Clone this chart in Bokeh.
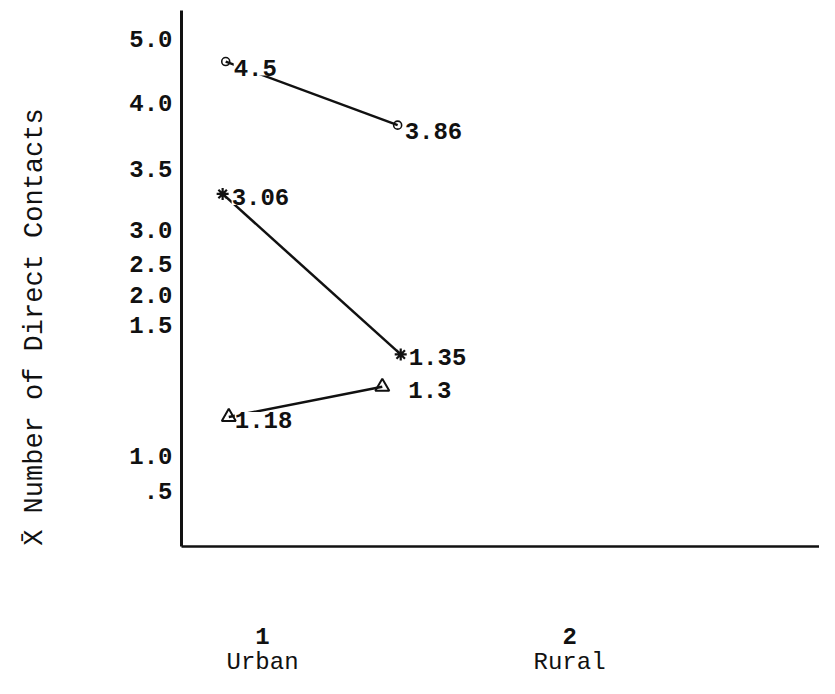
from bokeh.plotting import figure
from bokeh.models import ColumnDataSource, FixedTicker, LinearAxis, Range1d
from bokeh.embed import file_html
from bokeh.resources import INLINE
from bokeh.core.properties import value

FONT = "Liberation Mono"
INK = "#111111"

# ---- data (typed axis of the original: labels and their heights, read against the 1.0 and 5.0 ticks)
y_tick_labels = ["5.0", "4.0", "3.5", "3.0", "2.5", "2.0", "1.5", "1.0", ".5"]
y_tick_heights = [5.0, 4.38, 3.75, 3.16, 2.84, 2.54, 2.25, 1.0, 0.66]

x_ticks = [1, 2]
x_tick_numbers = ["1", "2"]
x_tick_names = ["Urban", "Rural"]

# series (urban, rural): typed mean labels, and plotted positions
circle_means = ["4.5", "3.86"]
circle_x = [0.88, 1.44]
circle_y = [4.78, 4.17]

star_means = ["3.06", "1.35"]
star_x = [0.87, 1.45]
star_y = [3.51, 1.97]

triangle_means = ["1.18", "1.3"]
triangle_x = [0.89, 1.39]
triangle_y = [1.37, 1.66]

y_title = "X\u0304 Number of Direct Contacts"

# ---- figure
p = figure(width=819, height=678, output_backend="svg", toolbar_location=None,
           x_range=Range1d(0.736, 2.814), y_range=Range1d(0.127, 5.27),
           min_border_left=181, min_border_right=0, min_border_top=10,
           min_border_bottom=132, outline_line_color=None,
           background_fill_color="white", border_fill_color="white")
p.grid.visible = False

ya = p.yaxis[0]
ya.ticker = FixedTicker(ticks=y_tick_heights)
ya.major_label_overrides = {h: l for h, l in zip(y_tick_heights, y_tick_labels)}
ya.major_tick_line_color = None
ya.minor_tick_line_color = None
ya.major_tick_in = 0
ya.major_tick_out = 0
ya.major_label_standoff = 9
ya.major_label_text_font = FONT
ya.major_label_text_font_size = "24px"
ya.major_label_text_font_style = "bold"
ya.major_label_text_color = INK
ya.axis_line_color = INK
ya.axis_line_width = 3
ya.axis_label = y_title + "\u00a0" * 6
ya.axis_label_text_font = FONT
ya.axis_label_text_font_size = "27px"
ya.axis_label_text_font_style = "normal"
ya.axis_label_text_color = INK
ya.axis_label_standoff = 76

xa = p.xaxis[0]
xa.ticker = FixedTicker(ticks=x_ticks)
xa.major_label_overrides = {t: l for t, l in zip(x_ticks, x_tick_numbers)}
xa.major_tick_line_color = None
xa.minor_tick_line_color = None
xa.major_tick_in = 0
xa.major_tick_out = 0
xa.major_label_standoff = 81
xa.major_label_text_font = FONT
xa.major_label_text_font_size = "24px"
xa.major_label_text_font_style = "bold"
xa.major_label_text_line_height = 1.0
xa.major_label_text_color = INK
xa.axis_line_color = INK
xa.axis_line_width = 2.5

xa2 = LinearAxis(ticker=FixedTicker(ticks=x_ticks),
                 major_label_overrides={t: l for t, l in zip(x_ticks, x_tick_names)})
xa2.axis_line_color = None
xa2.major_tick_line_color = None
xa2.minor_tick_line_color = None
xa2.major_tick_in = 0
xa2.major_tick_out = 0
xa2.major_label_standoff = 2
xa2.major_label_text_font = FONT
xa2.major_label_text_font_size = "24px"
xa2.major_label_text_line_height = 1.0
xa2.major_label_text_color = INK
p.add_layout(xa2, "below")

series = [
    dict(x=circle_x, y=circle_y, label=circle_means, marker="circle", size=8, lw=1.6,
         dx=[8, 7], dy=6),
    dict(x=star_x, y=star_y, label=star_means, marker="asterisk", size=12, lw=2.2,
         dx=[9, 8], dy=3),
    dict(x=triangle_x, y=triangle_y, label=triangle_means, marker="triangle", size=14, lw=2,
         dx=[6, 26], dy=3),
]
sources = [ColumnDataSource(dict(x=s["x"], y=s["y"], label=s["label"], dx=s["dx"]))
           for s in series]

for src in sources:
    p.line("x", "y", source=src, line_color=INK, line_width=2.5)
for s, src in zip(series, sources):
    p.text("x", "y", text="label", source=src, x_offset="dx", y_offset=s["dy"],
           text_font=value(FONT), text_font_size="24px", text_font_style="bold",
           text_color=INK, text_align="left", text_baseline="middle",
           background_fill_color="white")
for s, src in zip(series, sources):
    p.scatter("x", "y", source=src, marker=s["marker"], size=s["size"],
              fill_color=None, line_color=INK, line_width=s["lw"])

open("out.html", "w").write(file_html(p, INLINE))
